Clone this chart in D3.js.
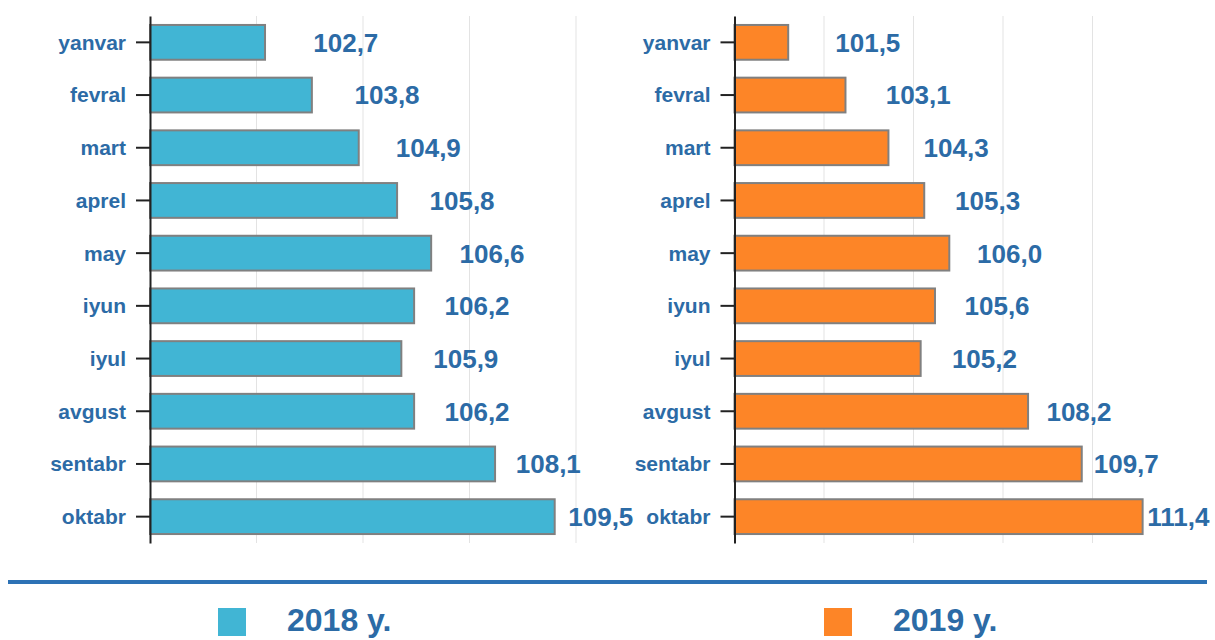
<!DOCTYPE html>
<html>
<head>
<meta charset="utf-8">
<script src="https://cdn.jsdelivr.net/npm/d3@7/dist/d3.min.js"></script>
<style>
  html, body { margin: 0; padding: 0; background: #fff; }
  svg { display: block; font-family: "Liberation Sans", Arial, sans-serif; }
</style>
</head>
<body>
<svg id="chart" width="1215" height="640"></svg>
<script>
// ---- data ----
const months = ["yanvar", "fevral", "mart", "aprel", "may", "iyun", "iyul", "avgust", "sentabr", "oktabr"];
const values2018 = [102.7, 103.8, 104.9, 105.8, 106.6, 106.2, 105.9, 106.2, 108.1, 109.5];
const values2019 = [101.5, 103.1, 104.3, 105.3, 106.0, 105.6, 105.2, 108.2, 109.7, 111.4];
const gridTicks = [102.5, 105, 107.5, 110];
const legendLabels = ["2018 y.", "2019 y."];

// ---- styles ----
const textColor = "#2C6BA6";
const colors = ["#41B5D4", "#FD8527"];
const svg = d3.select("#chart");

const y = d3.scaleBand().domain(months).range([16, 543]).paddingInner(0.34).paddingOuter(0.17);

const panels = [
  { values: values2018, color: colors[0],
    x: d3.scaleLinear().domain([100, 110]).range([150, 576]),
    lx: d3.scaleLinear().domain([100, 110]).range([212, 587]) },
  { values: values2019, color: colors[1],
    x: d3.scaleLinear().domain([100, 112.5]).range([734.5, 1182]),
    lx: d3.scaleLinear().domain([100, 112.5]).range([788, 1182]) }
];

panels.forEach(p => {
  const g = svg.append("g");
  // gridlines
  g.selectAll("line.grid").data(gridTicks).enter().append("line")
    .attr("class", "grid")
    .attr("x1", d => p.x(d)).attr("x2", d => p.x(d))
    .attr("y1", y.range()[0]).attr("y2", y.range()[1])
    .attr("stroke", "#E3E3E3").attr("stroke-width", 1);

  // bars
  g.selectAll("rect.bar").data(p.values).enter().append("rect")
    .attr("class", "bar")
    .attr("x", p.x(100))
    .attr("y", (d, i) => y(months[i]))
    .attr("width", d => p.x(d) - p.x(100))
    .attr("height", y.bandwidth())
    .attr("fill", p.color)
    .attr("stroke", "#808080").attr("stroke-width", 2);

  // y axis
  const axis = d3.axisLeft(y).tickSize(14).tickPadding(10).tickSizeOuter(0);
  const ag = g.append("g").attr("transform", `translate(${p.x(100)},0)`).call(axis);
  ag.select(".domain").attr("stroke", "#222").attr("stroke-width", 2);
  ag.selectAll(".tick line").attr("stroke", "#222").attr("stroke-width", 2);
  ag.selectAll(".tick text")
    .attr("fill", textColor)
    .style("font-size", "21px").style("font-weight", "bold")
    .attr("dy", "0.35em");

  // value labels
  g.selectAll("text.val").data(p.values).enter().append("text")
    .attr("class", "val")
    .attr("x", d => p.lx(d))
    .attr("y", (d, i) => y(months[i]) + y.bandwidth() / 2)
    .attr("dy", "0.36em")
    .attr("fill", textColor)
    .style("font-size", "26px").style("font-weight", "bold")
    .text(d => d3.format(".1f")(d).replace(".", ","));
});

// separator line
svg.append("line")
  .attr("x1", 8).attr("x2", 1207).attr("y1", 582).attr("y2", 582)
  .attr("stroke", "#2D72B5").attr("stroke-width", 4);

// legend
const legendX = [218, 824];
legendLabels.forEach((lab, i) => {
  svg.append("rect")
    .attr("x", legendX[i]).attr("y", 608)
    .attr("width", 28).attr("height", 28)
    .attr("fill", colors[i]);
  svg.append("text")
    .attr("x", legendX[i] + 69).attr("y", 631)
    .attr("fill", textColor)
    .style("font-size", "32px").style("font-weight", "bold")
    .text(lab);
});
</script>
</body>
</html>
